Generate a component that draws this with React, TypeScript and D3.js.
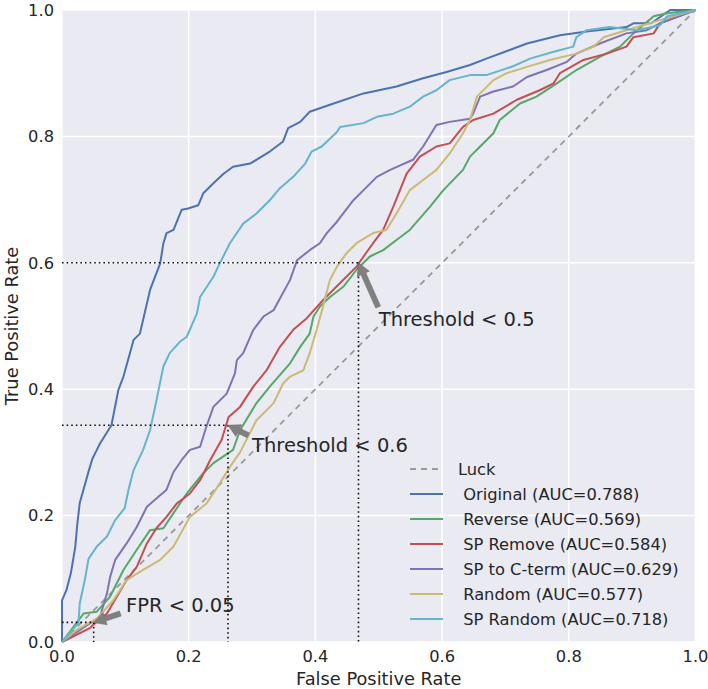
import { useMemo } from 'react'
import * as d3 from 'd3'

type Pt = [number, number]

// ROC curves as [fpr, tpr]
const ORIGINAL: Pt[] = [
  [0, 0], [0, 0.066], [0.007, 0.082], [0.014, 0.109], [0.021, 0.151], [0.024, 0.185], [0.028, 0.22],
  [0.042, 0.27], [0.048, 0.29], [0.055, 0.304], [0.06, 0.314], [0.078, 0.343], [0.089, 0.399],
  [0.097, 0.42], [0.113, 0.478], [0.123, 0.488], [0.139, 0.557], [0.147, 0.578], [0.155, 0.599],
  [0.16, 0.631], [0.165, 0.647], [0.176, 0.652], [0.189, 0.684], [0.199, 0.686], [0.215, 0.691],
  [0.223, 0.71], [0.239, 0.726], [0.255, 0.741], [0.27, 0.752], [0.297, 0.757], [0.328, 0.776],
  [0.349, 0.792], [0.357, 0.813], [0.376, 0.823], [0.391, 0.839], [0.423, 0.85], [0.476, 0.868],
  [0.528, 0.879], [0.57, 0.892], [0.607, 0.902], [0.644, 0.913], [0.67, 0.923], [0.734, 0.947],
  [0.786, 0.96], [0.828, 0.966], [0.891, 0.973], [0.902, 0.979], [0.93, 0.979], [0.96, 1.0], [1, 1],
]
const REVERSE: Pt[] = [
  [0, 0], [0.034, 0.045], [0.055, 0.048], [0.076, 0.072], [0.097, 0.114], [0.118, 0.146], [0.139, 0.177],
  [0.16, 0.18], [0.176, 0.204], [0.197, 0.235], [0.223, 0.267], [0.239, 0.283], [0.27, 0.304],
  [0.281, 0.335], [0.307, 0.378], [0.328, 0.404], [0.36, 0.441], [0.376, 0.467], [0.391, 0.488],
  [0.397, 0.515], [0.407, 0.531], [0.423, 0.546], [0.444, 0.562], [0.465, 0.589], [0.486, 0.61],
  [0.507, 0.62], [0.528, 0.636], [0.549, 0.652], [0.581, 0.689], [0.602, 0.715], [0.633, 0.747],
  [0.644, 0.768], [0.66, 0.784], [0.681, 0.805], [0.691, 0.826], [0.723, 0.852], [0.749, 0.863],
  [0.781, 0.884], [0.812, 0.905], [0.849, 0.926], [0.881, 0.942], [0.902, 0.963], [0.934, 0.99],
  [0.955, 0.995], [1, 1],
]
const SP_REMOVE: Pt[] = [
  [0, 0], [0.044, 0.022], [0.049, 0.027], [0.071, 0.045], [0.102, 0.098], [0.118, 0.119], [0.134, 0.156],
  [0.149, 0.18], [0.165, 0.198], [0.181, 0.219], [0.202, 0.235], [0.218, 0.256], [0.234, 0.288],
  [0.252, 0.32], [0.263, 0.356], [0.281, 0.372], [0.302, 0.404], [0.323, 0.43], [0.344, 0.467],
  [0.365, 0.494], [0.386, 0.512], [0.412, 0.541], [0.439, 0.568], [0.465, 0.594], [0.476, 0.61],
  [0.491, 0.631], [0.507, 0.652], [0.523, 0.689], [0.544, 0.741], [0.565, 0.768], [0.591, 0.784],
  [0.612, 0.789], [0.633, 0.815], [0.649, 0.826], [0.681, 0.836], [0.718, 0.858], [0.754, 0.873],
  [0.776, 0.884], [0.786, 0.9], [0.823, 0.921], [0.86, 0.931], [0.891, 0.942], [0.902, 0.957],
  [0.934, 0.963], [0.944, 0.979], [1, 1],
]
const SP_CTERM: Pt[] = [
  [0, 0], [0.06, 0.04], [0.071, 0.077], [0.076, 0.103], [0.084, 0.13], [0.102, 0.156], [0.118, 0.182],
  [0.134, 0.214], [0.149, 0.227], [0.165, 0.241], [0.176, 0.269], [0.189, 0.288], [0.202, 0.304],
  [0.218, 0.309], [0.228, 0.341], [0.239, 0.372], [0.26, 0.393], [0.273, 0.425], [0.276, 0.446],
  [0.286, 0.457], [0.302, 0.494], [0.318, 0.515], [0.334, 0.525], [0.36, 0.573], [0.371, 0.604],
  [0.391, 0.62], [0.407, 0.631], [0.418, 0.647], [0.434, 0.665], [0.46, 0.699], [0.476, 0.715],
  [0.497, 0.736], [0.518, 0.747], [0.554, 0.763], [0.57, 0.784], [0.591, 0.818], [0.612, 0.823],
  [0.644, 0.828], [0.649, 0.836], [0.66, 0.863], [0.681, 0.871], [0.712, 0.879], [0.734, 0.894],
  [0.765, 0.905], [0.797, 0.918], [0.812, 0.931], [0.849, 0.947], [0.891, 0.963], [0.923, 0.968],
  [0.944, 0.979], [1, 1],
]
const RANDOM: Pt[] = [
  [0, 0], [0.023, 0.019], [0.055, 0.037], [0.081, 0.066], [0.102, 0.098], [0.128, 0.114], [0.155, 0.13],
  [0.176, 0.151], [0.202, 0.198], [0.228, 0.219], [0.249, 0.251], [0.265, 0.277], [0.281, 0.3],
  [0.307, 0.351], [0.334, 0.378], [0.349, 0.409], [0.36, 0.42], [0.381, 0.43], [0.391, 0.457],
  [0.402, 0.494], [0.412, 0.531], [0.423, 0.573], [0.434, 0.594], [0.449, 0.615], [0.465, 0.631],
  [0.491, 0.647], [0.512, 0.652], [0.528, 0.678], [0.549, 0.715], [0.57, 0.731], [0.591, 0.747],
  [0.612, 0.773], [0.633, 0.805], [0.644, 0.826], [0.655, 0.863], [0.681, 0.889], [0.702, 0.9],
  [0.734, 0.91], [0.77, 0.921], [0.812, 0.931], [0.839, 0.942], [0.855, 0.957], [0.891, 0.968],
  [0.944, 0.984], [1, 1],
]
const SP_RANDOM: Pt[] = [
  [0, 0], [0.026, 0.03], [0.028, 0.061], [0.036, 0.098], [0.042, 0.132], [0.055, 0.151], [0.071, 0.167],
  [0.084, 0.193], [0.099, 0.212], [0.105, 0.241], [0.113, 0.272], [0.128, 0.304], [0.139, 0.335],
  [0.147, 0.372], [0.16, 0.436], [0.17, 0.457], [0.186, 0.475], [0.197, 0.483], [0.213, 0.52],
  [0.218, 0.546], [0.239, 0.578], [0.249, 0.599], [0.265, 0.631], [0.286, 0.662], [0.307, 0.678],
  [0.328, 0.699], [0.344, 0.718], [0.365, 0.736], [0.384, 0.757], [0.394, 0.776], [0.41, 0.784],
  [0.434, 0.807], [0.439, 0.815], [0.476, 0.821], [0.497, 0.831], [0.523, 0.836], [0.549, 0.847],
  [0.57, 0.863], [0.591, 0.873], [0.612, 0.889], [0.644, 0.897], [0.67, 0.897], [0.712, 0.911],
  [0.739, 0.923], [0.776, 0.934], [0.807, 0.942], [0.812, 0.957], [0.828, 0.968], [0.865, 0.973],
  [0.907, 0.968], [0.944, 0.976], [0.955, 0.99], [1, 1],
]

const SERIES = [
  { name: ' Original (AUC=0.788)', color: '#4C72B0', pts: ORIGINAL },
  { name: ' Reverse (AUC=0.569)', color: '#55A868', pts: REVERSE },
  { name: ' SP Remove (AUC=0.584)', color: '#C44E52', pts: SP_REMOVE },
  { name: ' SP to C-term (AUC=0.629)', color: '#8172B2', pts: SP_CTERM },
  { name: ' Random (AUC=0.577)', color: '#CCB974', pts: RANDOM },
  { name: ' SP Random (AUC=0.718)', color: '#64B5CD', pts: SP_RANDOM },
]

const TICKS = [0, 0.2, 0.4, 0.6, 0.8, 1.0]

// threshold markers: point on curve, text anchor, arrow tail
const NOTES = [
  { label: 'Threshold < 0.5', x: 0.468, y: 0.6, tx: 0.5, ty: 0.5, ax: 0.499, ay: 0.53 },
  { label: 'Threshold < 0.6', x: 0.262, y: 0.343, tx: 0.3, ty: 0.3, ax: 0.294, ay: 0.327 },
  { label: 'FPR < 0.05', x: 0.05, y: 0.031, tx: 0.101, ty: 0.048, ax: 0.092, ay: 0.045 },
]

const W = 708
const H = 689
const pad = { l: 62, r: 12.5, t: 10, b: 47 }
const FONT = 'DejaVu Sans, sans-serif'
const INK = '#262626'

function arrowPath(x0: number, y0: number, x1: number, y1: number) {
  const dx = x1 - x0, dy = y1 - y0
  const len = Math.hypot(dx, dy)
  const ux = dx / len, uy = dy / len
  const nx = -uy, ny = ux
  const hl = 12, hw = 6.5, sw = 2.6
  const bx = x1 - ux * hl, by = y1 - uy * hl
  const p = [
    [x0 + nx * sw, y0 + ny * sw],
    [bx + nx * sw, by + ny * sw],
    [bx + nx * hw, by + ny * hw],
    [x1, y1],
    [bx - nx * hw, by - ny * hw],
    [bx - nx * sw, by - ny * sw],
    [x0 - nx * sw, y0 - ny * sw],
  ]
  return 'M' + p.map(q => q.join(',')).join('L') + 'Z'
}

export default function App() {
  const x = useMemo(() => d3.scaleLinear().domain([0, 1]).range([pad.l, W - pad.r]), [])
  const y = useMemo(() => d3.scaleLinear().domain([0, 1]).range([H - pad.b, pad.t]), [])
  const line = d3.line<Pt>().x(d => x(d[0])).y(d => y(d[1]))
  const fmt = d3.format('.1f')

  const legendX = 410
  const legendY = 469
  const rowH = 25

  return (
    <div style={{ position: 'absolute', left: 0, top: 0 }}>
      <svg width={W} height={H} style={{ display: 'block', background: '#fff' }}>
        <rect x={x(0)} y={y(1)} width={x(1) - x(0)} height={y(0) - y(1)} fill="#EAEAF2" />
        {TICKS.map(t => (
          <g key={'g' + t}>
            <line x1={x(t)} x2={x(t)} y1={y(0)} y2={y(1)} stroke="#fff" strokeWidth={1.5} />
            <line x1={x(0)} x2={x(1)} y1={y(t)} y2={y(t)} stroke="#fff" strokeWidth={1.5} />
          </g>
        ))}

        <line x1={x(0)} y1={y(0)} x2={x(1)} y2={y(1)} stroke="#999" strokeWidth={1.8} strokeDasharray="6,5" />

        {SERIES.map(s => (
          <path key={s.name} d={line(s.pts) || ''} fill="none" stroke={s.color} strokeWidth={2} strokeLinejoin="round" />
        ))}

        {NOTES.map(n => (
          <g key={n.label}>
            <line x1={x(0)} x2={x(n.x)} y1={y(n.y)} y2={y(n.y)} stroke="#111" strokeWidth={1.6} strokeDasharray="1.6,3" />
            <line x1={x(n.x)} x2={x(n.x)} y1={y(n.y)} y2={y(0)} stroke="#111" strokeWidth={1.6} strokeDasharray="1.6,3" />
            <path d={arrowPath(x(n.ax), y(n.ay), x(n.x), y(n.y))} fill="#808080" stroke="#6e6e6e" strokeWidth={0.6} />
            <text x={x(n.tx)} y={y(n.ty)} fontSize={19.5} fontFamily={FONT} fill={INK}>{n.label}</text>
          </g>
        ))}

        {TICKS.map(t => (
          <g key={'t' + t} fontFamily={FONT} fontSize={16.3} fill={INK}>
            <text x={x(t)} y={662} textAnchor="middle">{fmt(t)}</text>
            <text x={54} y={y(t)} dy="0.35em" textAnchor="end">{fmt(t)}</text>
          </g>
        ))}

        <text x={x(0.5)} y={685} textAnchor="middle" fontFamily={FONT} fontSize={17.8} fill={INK}>False Positive Rate</text>
        <text transform={`translate(18,${y(0.5)}) rotate(-90)`} textAnchor="middle" fontFamily={FONT} fontSize={17.8} fill={INK}>True Positive Rate</text>

        <g fontFamily={FONT} fontSize={16.3} fill={INK}>
          <line x1={legendX} x2={legendX + 33} y1={legendY} y2={legendY} stroke="#999" strokeWidth={1.8} strokeDasharray="6,5" />
          <text x={legendX + 48} y={legendY} dy="0.35em">Luck</text>
          {SERIES.map((s, i) => (
            <g key={'l' + s.name}>
              <line x1={legendX} x2={legendX + 33} y1={legendY + rowH * (i + 1)} y2={legendY + rowH * (i + 1)} stroke={s.color} strokeWidth={2} />
              <text x={legendX + 48} y={legendY + rowH * (i + 1)} dy="0.35em" style={{ whiteSpace: 'pre' }}>{s.name}</text>
            </g>
          ))}
        </g>
      </svg>
    </div>
  )
}
